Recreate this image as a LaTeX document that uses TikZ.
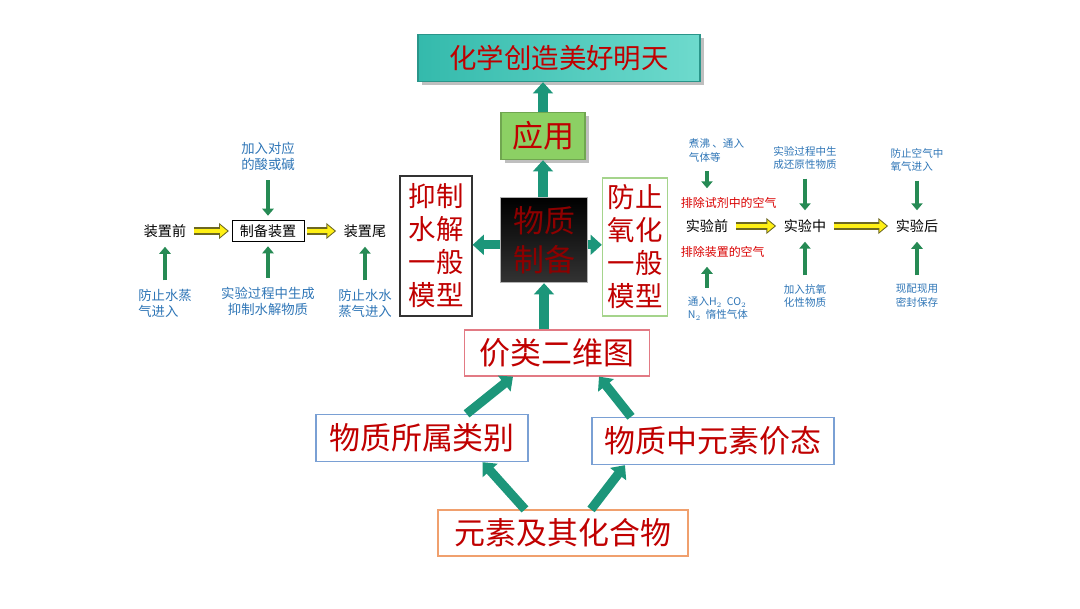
\documentclass[tikz,border=0pt]{standalone}
\usepackage{fontspec}
\setmainfont{Noto Sans CJK SC}
\usepackage{tikz}
\usetikzlibrary{arrows.meta, positioning, calc, shadows}
\definecolor{DeepRed}{RGB}{192, 0, 0}
\definecolor{TealDark}{RGB}{52, 186, 172}
\definecolor{TealLight}{RGB}{110, 218, 205}
\definecolor{LeafGreen}{RGB}{140, 208, 100}
\definecolor{ArrTeal}{RGB}{28, 150, 122}
\definecolor{NoteBlue}{RGB}{46, 117, 182}
\definecolor{RoseLine}{RGB}{226, 122, 132}
\definecolor{SkyLine}{RGB}{122, 160, 212}
\definecolor{OrangeLine}{RGB}{240, 160, 110}
\definecolor{PaleGreen}{RGB}{165, 212, 140}
\definecolor{ArrGreen}{RGB}{38, 138, 84}
\definecolor{ArrYellow}{RGB}{255, 240, 20}

\begin{document}
\begin{tikzpicture}[
  x=0.025cm, y=-0.025cm,
  topic/.style={
    rectangle, draw, fill=white, line width=0.8pt,
    text=DeepRed, font=\fontsize{22}{24}\selectfont,
    inner sep=0pt, text centered
  },
  model/.style={topic, align=center, font=\fontsize{19.5}{23.5}\selectfont},
  tag/.style={font=\fontsize{10}{12}\selectfont},
  note/.style={font=\fontsize{9.5}{11.5}\selectfont, text=NoteBlue, align=left},
  small/.style={note, font=\fontsize{7.5}{9.5}\selectfont},
  warn/.style={font=\fontsize{8.5}{10}\selectfont, text=red!85!black},
  main/.style={-{Triangle[length=8pt, width=14pt]}, line width=6.5pt, draw=ArrTeal},
  gar/.style={-{Triangle[length=5pt, width=8pt]}, line width=3pt, draw=ArrGreen,
    shorten <=3pt, shorten >=3pt},
  flow/.style={-{Triangle[length=7pt, width=11pt]}, line width=5pt,
    draw=olive!70!black, shorten <=2pt, shorten >=2pt,
    postaction={draw=ArrYellow, line width=3pt,
      -{Triangle[length=5pt, width=8pt]}, shorten >=3.2pt}}
]
  \useasboundingbox (0,0) rectangle (1080,608);

  % central chain
  \node[topic, draw=TealDark!80!black, left color=TealDark, right color=TealLight,
        drop shadow, minimum width=7.05cm, minimum height=1.18cm,
        font=\fontsize{19.5}{22}\selectfont] (top) at (559,58) {化学创造美好明天};
  \node[topic, draw=LeafGreen!80!black, fill=LeafGreen, drop shadow,
        minimum width=2.1cm, minimum height=1.18cm] (apply) at (543,136) {应用};
  \node[topic, draw=gray!60, top color=black, bottom color=black!80,
        text=red!55!black, minimum width=2.18cm, minimum height=2.13cm,
        align=center, font=\fontsize{22}{28}\selectfont] (prep) at (544,240) {物质\\制备};
  \node[model, draw=black!80, minimum width=1.8cm, minimum height=3.5cm]
        (hydro) at (436,246) {抑制\\水解\\一般\\模型};
  \node[model, draw=PaleGreen, minimum width=1.63cm, minimum height=3.45cm]
        (oxid) at (635,247) {防止\\氧化\\一般\\模型};
  \node[topic, draw=RoseLine, minimum width=4.63cm, minimum height=1.15cm]
        (chart) at (557,353) {价类二维图};
  \node[topic, draw=SkyLine, minimum width=5.3cm, minimum height=1.18cm]
        (cls) at (422,438) {物质所属类别};
  \node[topic, draw=SkyLine, minimum width=6.05cm, minimum height=1.18cm]
        (val) at (713,441) {物质中元素价态};
  \node[topic, draw=OrangeLine, minimum width=6.25cm, minimum height=1.15cm]
        (elem) at (563,533) {元素及其化合物};

  \draw[main] (apply.north) -- (apply.north |- top.south);
  \draw[main] (prep.north -| apply) -- (apply.south);
  \draw[main] ([yshift=-0.12cm]prep.west) -- ([yshift=-0.12cm]prep.west -| hydro.east);
  \draw[main] ([yshift=-0.12cm]prep.east) -- ([yshift=-0.12cm]prep.east -| oxid.west);
  \draw[main] (chart.north -| prep) -- (prep.south);
  \draw[main] ([xshift=-1.55cm]cls.north east) -- ([xshift=-1.1cm]chart.south);
  \draw[main] ([xshift=-2.05cm]val.north) -- ([xshift=1.05cm]chart.south);
  \draw[main] ([xshift=-0.95cm]elem.north) -- ([xshift=-1.15cm]cls.south east);
  \draw[main] ([xshift=0.7cm]elem.north) -- ([xshift=-2.2cm]val.south);

  % hydrolysis side
  \node[tag] (devpre) at (165,231) {装置前};
  \node[tag, draw, inner sep=3pt, minimum width=1.8cm] (devbox) at (268,231) {制备装置};
  \node[tag] (devpost) at (365,231) {装置尾};
  \node[note, align=center, above=1.1cm of devbox] (addacid) {加入对应\\的酸或碱};
  \node[note, align=center, below=1.0cm of devbox] (selfgen) {实验过程中生成\\抑制水解物质};
  \node[note, below=1.05cm of devpre] (dryA) {防止水蒸\\气进入};
  \node[note, below=1.05cm of devpost] (dryB) {防止水水\\蒸气进入};

  \draw[flow] (devpre) -- (devbox);
  \draw[flow] (devbox) -- (devpost);
  \draw[gar] (addacid) -- (devbox);
  \draw[gar] (selfgen) -- (devbox);
  \draw[gar] (dryA) -- (devpre);
  \draw[gar] (dryB) -- (devpost);

  % oxidation side
  \node[tag] (before) at (707,226) {实验前};
  \node[tag] (during) at (805,226) {实验中};
  \node[tag] (after) at (917,226) {实验后};
  \node[warn, anchor=west] (rmreag) at (676,203) {排除试剂中的空气};
  \node[warn, anchor=west] (rmdev) at (676,252) {排除装置的空气};
  \node[small, anchor=south west] (boil) at (684,167) {煮沸 、通入\\气体等};
  \node[small, anchor=north west] (inert) at (683,292) {通入H$_2$\ \ CO$_2$\\N$_2$\ \ 惰性气体};
  \node[small, above=1.0cm of during] (genred) {实验过程中生\\成还原性物质};
  \node[small, below=1.05cm of during] (antiox) {加入抗氧\\化性物质};
  \node[small, above=0.95cm of after] (sealair) {防止空气中\\氧气进入};
  \node[small, below=1.05cm of after] (fresh) {现配现用\\密封保存};

  \draw[flow] (before) -- (during);
  \draw[flow] (during) -- (after);
  \draw[gar] (boil.south -| before) -- (rmreag.north -| before);
  \draw[gar] (inert.north -| before) -- (rmdev.south -| before);
  \draw[gar] (genred) -- (during);
  \draw[gar] (antiox) -- (during);
  \draw[gar] (sealair) -- (after);
  \draw[gar] (fresh) -- (after);
\end{tikzpicture}
\end{document}
